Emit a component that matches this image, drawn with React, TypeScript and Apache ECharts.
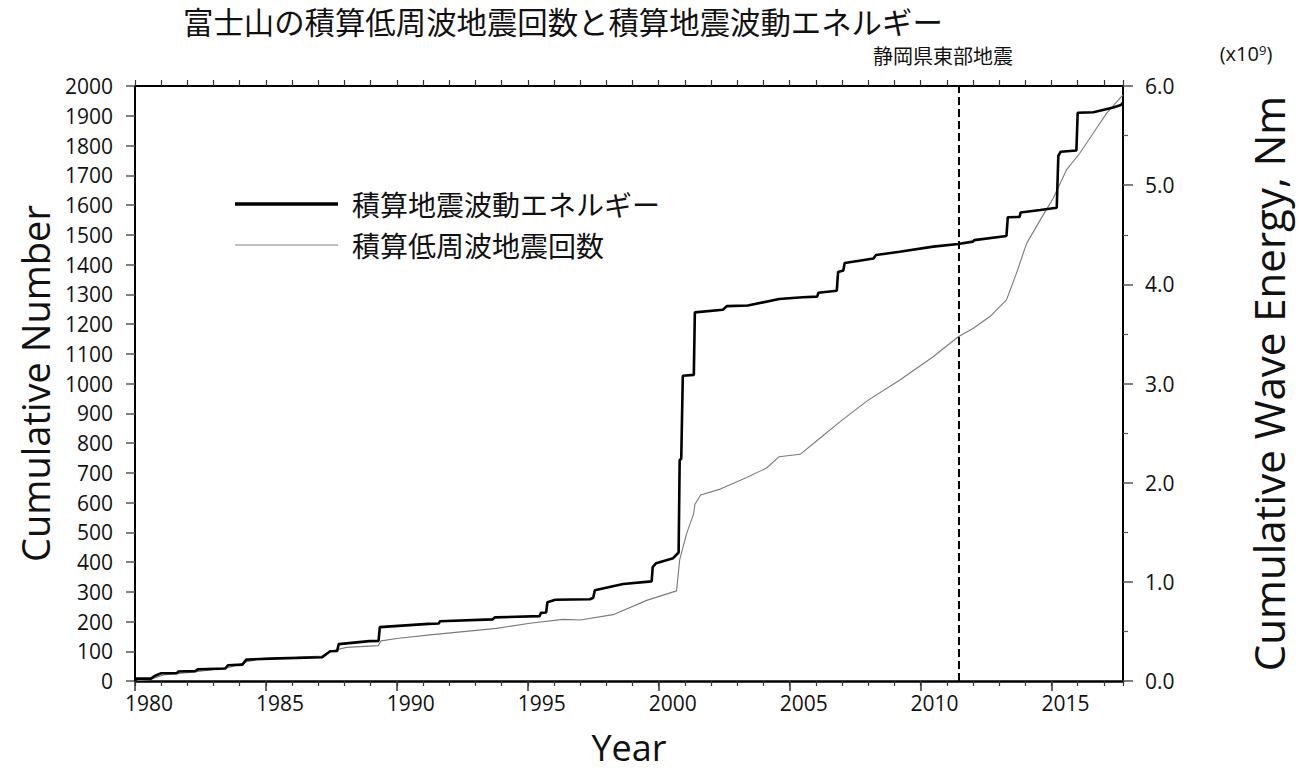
import React, { useEffect, useRef } from "react";
import * as echarts from "echarts";

const titleText = "富士山の積算低周波地震回数と積算地震波動エネルギー";
const energyName = "積算地震波動エネルギー";
const countName = "積算低周波地震回数";
const eventName = "静岡県東部地震";
const eventYear = 2011.44;
const xMin = 1980;
const xMax = 2017.73;

// cumulative wave energy (x10^9 Nm)
const energyYears = [
  1980.0, 1980.05, 1980.6, 1980.75, 1981.0, 1981.6, 1981.65, 1982.3, 1982.4, 1983.45,
  1983.55, 1984.1, 1984.25, 1985.5, 1987.15, 1987.3, 1987.45, 1987.72, 1987.78, 1988.95,
  1989.3, 1989.35, 1991.2, 1991.6, 1991.65, 1993.65, 1993.75, 1995.45, 1995.5, 1995.7,
  1995.75, 1996.05, 1997.37, 1997.5, 1997.56, 1998.64, 1999.73, 1999.77, 1999.9, 2000.55,
  2000.76, 2000.8, 2000.86, 2000.92, 2001.34, 2001.38, 2002.45, 2002.6, 2003.4, 2004.6,
  2005.5, 2006.05, 2006.1, 2006.8, 2006.85, 2007.05, 2007.1, 2007.6, 2008.2, 2008.3,
  2009.2, 2010.48, 2011.44, 2012.0, 2012.05, 2013.28, 2013.33, 2013.78, 2013.82, 2014.57,
  2015.2, 2015.26, 2015.35, 2015.95, 2016.0, 2016.6, 2017.36, 2017.65, 2017.72,
];
const energyValues = [
  0, 0.024, 0.024, 0.05, 0.078, 0.078, 0.096, 0.1, 0.117, 0.126,
  0.159, 0.165, 0.216, 0.228, 0.24, 0.27, 0.3, 0.303, 0.372, 0.402,
  0.405, 0.543, 0.576, 0.58, 0.603, 0.621, 0.642, 0.654, 0.687, 0.69,
  0.795, 0.819, 0.825, 0.84, 0.915, 0.978, 1.005, 1.149, 1.188, 1.239,
  1.296, 2.229, 2.24, 3.078, 3.087, 3.717, 3.744, 3.78, 3.786, 3.852,
  3.87, 3.876, 3.915, 3.936, 4.125, 4.14, 4.215, 4.236, 4.26, 4.296,
  4.329, 4.38, 4.407, 4.431, 4.446, 4.488, 4.677, 4.68, 4.725, 4.749,
  4.773, 5.295, 5.337, 5.349, 5.73, 5.736, 5.784, 5.808, 5.83,
];

// cumulative number of low-frequency earthquakes
const countYears = [
  1980.0, 1980.6, 1981.08, 1982.36, 1983.63, 1984.27, 1984.9, 1986.17, 1987.13, 1987.45,
  1988.08, 1989.29, 1989.4, 1990.0, 1991.26, 1992.54, 1993.81, 1995.08, 1996.35, 1997.0,
  1998.26, 1999.54, 2000.68, 2000.8, 2001.07, 2001.33, 2001.38, 2001.6, 2002.35, 2003.36,
  2004.12, 2004.6, 2005.4, 2006.0, 2007.0, 2008.0, 2009.21, 2010.48, 2011.44, 2012.0,
  2012.65, 2013.28, 2013.66, 2014.05, 2014.57, 2015.06, 2015.57, 2016.08, 2016.59, 2017.1,
  2017.73,
];
const countValues = [
  0, 5, 20, 31, 46, 65, 76, 80, 84, 100,
  113, 119, 135, 143, 155, 166, 177, 194, 207, 205,
  223, 271, 303, 407, 497, 561, 593, 625, 645, 684,
  716, 754, 762, 805, 877, 944, 1012, 1090, 1157, 1185,
  1225, 1281, 1370, 1471, 1550, 1622, 1718, 1774, 1841, 1908,
  1970,
];

const latin = "'Open Sans', 'DejaVu Sans', sans-serif";
const cjk = "'Noto Sans CJK JP', sans-serif";

export default function App() {
  const ref = useRef<HTMLDivElement>(null);
  useEffect(() => {
    document.body.style.margin = "0";
    const chart = echarts.init(ref.current!, null, { renderer: "svg" });
    const energyData = energyYears.map((y, i) => [y, energyValues[i]]);
    const countData = countYears.map((y, i) => [y, countValues[i]]);
    const xBase = {
      type: "value",
      min: xMin,
      max: xMax,
      gridIndex: 0,
      offset: 0,
      splitLine: { show: false },
    };
    const option = {
      animation: false,
      backgroundColor: "#ffffff",
      title: {
        text: titleText,
        left: 183,
        top: 5,
        padding: 0,
        textStyle: { fontFamily: cjk, fontSize: 30.4, lineHeight: 32, fontWeight: "normal", color: "#111" },
      },
      grid: { left: 135, right: 176, top: 86, bottom: 95 },
      legend: {
        orient: "vertical",
        left: 230,
        top: 184,
        itemWidth: 103,
        itemHeight: 14,
        itemGap: 11,
        symbolKeepAspect: true,
        itemStyle: { borderWidth: 0 },
        data: [
          { name: energyName, icon: "path://M0 0H100V3.4H0Z" },
          { name: countName, icon: "path://M0 0H100V1H0Z" },
        ],
        textStyle: { fontFamily: cjk, fontSize: 28, color: "#111", lineHeight: 30, padding: [0, 0, 0, 9] },
      },
      xAxis: [
        {
          ...xBase,
          position: "bottom",
          interval: 5,
          axisLine: { show: true, onZero: false, lineStyle: { color: "#000", width: 2.5 } },
          axisTick: { show: true, inside: false, length: 10, lineStyle: { color: "#333", width: 1.5 } },
          axisLabel: {
            show: true,
            fontSize: 21,
            color: "#111",
            fontFamily: latin,
            margin: 11,
            padding: [0, 0, 0, 28],
            showMaxLabel: false,
            formatter: (v: number) => String(Math.round(v)),
          },
          name: "Year",
          nameLocation: "middle",
          nameGap: 46,
          nameTextStyle: { fontSize: 36, color: "#111", fontFamily: latin, lineHeight: 40 },
        },
        {
          ...xBase,
          position: "bottom",
          interval: 1,
          axisLine: { show: false, onZero: false },
          axisTick: { show: true, inside: false, length: 5, lineStyle: { color: "#333", width: 1.2 } },
          axisLabel: { show: false },
        },
        {
          ...xBase,
          position: "top",
          interval: 1,
          axisLine: { show: true, onZero: false, lineStyle: { color: "#000", width: 2 } },
          axisTick: { show: true, inside: false, length: 6, lineStyle: { color: "#333", width: 1.2 } },
          axisLabel: { show: false },
        },
      ],
      yAxis: [
        {
          type: "value",
          position: "left",
          min: 0,
          max: 2000,
          interval: 100,
          splitLine: { show: false },
          axisLine: { show: true, onZero: false, lineStyle: { color: "#000", width: 2 } },
          axisTick: { show: true, inside: false, length: 9, lineStyle: { color: "#555", width: 1.5 } },
          axisLabel: {
            fontSize: 21,
            color: "#111",
            fontFamily: latin,
            margin: 22,
            formatter: (v: number) => String(v),
          },
          name: "Cumulative Number",
          nameLocation: "middle",
          nameRotate: 90,
          nameGap: 80,
          nameTextStyle: { fontSize: 38, color: "#111", fontFamily: latin },
        },
        {
          type: "value",
          position: "right",
          min: 0,
          max: 6,
          interval: 1,
          splitLine: { show: false },
          axisLine: { show: true, onZero: false, lineStyle: { color: "#000", width: 2 } },
          axisTick: { show: true, inside: false, length: 10, lineStyle: { color: "#555", width: 1.5 } },
          minorTick: { show: true, splitNumber: 2, length: 5, lineStyle: { color: "#555", width: 1.2 } },
          axisLabel: {
            fontSize: 21,
            color: "#111",
            fontFamily: latin,
            margin: 22,
            formatter: (v: number) => v.toFixed(1),
          },
          name: "Cumulative Wave Energy, Nm",
          nameLocation: "middle",
          nameRotate: 90,
          nameGap: 124,
          nameTextStyle: { fontSize: 42, color: "#111", fontFamily: latin },
        },
      ],
      series: [
        {
          name: countName,
          type: "line",
          xAxisIndex: 0,
          yAxisIndex: 0,
          data: countData,
          symbol: "none",
          showSymbol: false,
          color: "#808080",
          lineStyle: { width: 1.1, color: "#7a7a7a" },
          z: 2,
        },
        {
          name: energyName,
          type: "line",
          xAxisIndex: 0,
          yAxisIndex: 1,
          data: energyData,
          symbol: "none",
          showSymbol: false,
          color: "#000000",
          lineStyle: { width: 2.6, color: "#000000" },
          z: 3,
          markLine: {
            silent: true,
            symbol: "none",
            label: { show: false },
            lineStyle: { type: [8, 4], color: "#000", width: 2 },
            data: [{ xAxis: eventYear }],
          },
        },
      ],
      graphic: [
        {
          type: "text",
          x: 943,
          y: 55,
          style: {
            text: eventName,
            fontSize: 20,
            lineHeight: 22,
            fontFamily: cjk,
            fill: "#111",
            align: "center",
            verticalAlign: "middle",
            textAlign: "center",
            textVerticalAlign: "middle",
          },
        },
        {
          type: "text",
          x: 1246,
          y: 53,
          style: {
            text: "(x10{s|9})",
            fontSize: 20,
            fontFamily: latin,
            fill: "#111",
            align: "center",
            verticalAlign: "middle",
            textAlign: "center",
            textVerticalAlign: "middle",
            rich: { s: { fontSize: 13, verticalAlign: "top", fontFamily: latin, fill: "#111" } },
          },
        },
      ],
    };
    chart.setOption(option as any);
    return () => chart.dispose();
  }, []);
  return (
    <div
      ref={ref}
      style={{ width: 1299, height: 776, position: "absolute", left: 0, top: 0, background: "#fff" }}
    />
  );
}
